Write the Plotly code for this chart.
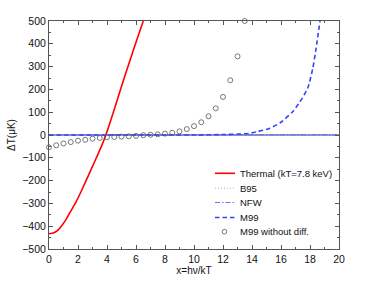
import plotly.graph_objects as go

# Thermal SZ curve
thermal_x = [0, 0.3, 0.6, 0.85, 1.1, 1.4, 1.81, 2.2, 2.54, 2.9, 3.25, 3.6, 3.92, 4.5, 5.2, 5.85, 6.5]
thermal_y = [-433, -430, -418, -400, -378, -345, -300, -250, -202, -152, -102, -52, 0, 112, 253, 378, 500]

# B95 and NFW (essentially zero across the range)
b95_x = [0, 5, 10, 15, 20]
b95_y = [0, 0, 0, 1, 2]
nfw_x = [0, 5, 10, 15, 20]
nfw_y = [0, 0, 0, 1, 2]

# M99 (dashed)
m99_x = [0, 4, 8, 10, 12, 13, 13.8, 14.4, 15.2, 16.0, 16.8, 17.3, 17.84, 18.19, 18.42, 18.69]
m99_y = [0, 0, 0, 0, 2, 4, 7, 15, 29, 56, 102, 145, 205, 292, 380, 500]

# M99 without diffusion (circles)
circ_x = [i * 0.5 for i in range(28)]
circ_y = [-54, -45, -37, -31, -25, -21, -16, -13, -10, -9, -7, -6, -4, -1,
          1, 3, 6, 10, 16, 26, 39, 56, 82, 117, 167, 240, 345, 500]

x_ticks = [0, 2, 4, 6, 8, 10, 12, 14, 16, 18, 20]
y_ticks = [-500, -400, -300, -200, -100, 0, 100, 200, 300, 400, 500]
y_tick_text = [str(v).replace('-', '\u2212') for v in y_ticks]

legend_names = ["Thermal (kT=7.8 keV)", "B95", "NFW", "M99", "M99 without diff."]

font_family = "Liberation Sans, Arial, sans-serif"
RED = "#ff0000"
B95_C = "#9aa8ff"
NFW_C = "#6677ff"
M99_C = "#3344ff"
CIRC_C = "#555555"
DOT = "1px,2px"
DASHDOT = "5px,2px,1.5px,2px"
DASH = "4.5px,3px"

fig = go.Figure()
# zero line
fig.add_trace(go.Scatter(x=[0, 20], y=[0, 0], mode="lines",
                         line=dict(color="#2a2a66", width=1), showlegend=False, hoverinfo="skip"))
fig.add_trace(go.Scatter(x=thermal_x, y=thermal_y, mode="lines", name=legend_names[0],
                         line=dict(color=RED, width=1.6, shape="spline", smoothing=0.6)))
fig.add_trace(go.Scatter(x=b95_x, y=b95_y, mode="lines", name=legend_names[1],
                         line=dict(color=B95_C, width=1, dash=DOT)))
fig.add_trace(go.Scatter(x=nfw_x, y=nfw_y, mode="lines", name=legend_names[2],
                         line=dict(color=NFW_C, width=1.2, dash=DASHDOT)))
fig.add_trace(go.Scatter(x=m99_x, y=m99_y, mode="lines", name=legend_names[3],
                         line=dict(color=M99_C, width=1.6, dash=DASH, shape="spline", smoothing=0.6)))
fig.add_trace(go.Scatter(x=circ_x, y=circ_y, mode="markers", name=legend_names[4],
                         cliponaxis=False,
                         marker=dict(symbol="circle-open", size=5, color=CIRC_C,
                                     line=dict(width=0.8, color=CIRC_C))))
fig.update_traces(showlegend=False)

axis_common = dict(showline=True, linecolor="#555555", linewidth=1, mirror="allticks",
                   ticks="inside", ticklen=4, tickcolor="#555555", showgrid=False,
                   zeroline=False, automargin=False,
                   tickfont=dict(size=10.5, color="#111111", family=font_family))

fig.update_xaxes(range=[0, 20], tickvals=x_ticks, ticktext=[str(v) for v in x_ticks],
                 minor=dict(ticks="inside", dtick=1, ticklen=2, tickcolor="#555555"),
                 title=dict(text="x=h\u03bd/kT", font=dict(size=10, family=font_family, color="#111111"),
                            standoff=1),
                 **axis_common)
fig.update_yaxes(range=[-500, 500], tickvals=y_ticks, ticktext=y_tick_text,
                 minor=dict(ticks="inside", dtick=50, ticklen=2, tickcolor="#555555"),
                 title=dict(text="\u0394T(\u03bcK)", font=dict(size=10, family=font_family, color="#111111"),
                            standoff=4),
                 **axis_common)

# manual legend (paper coordinates)
L, R, T, B = 49, 339, 21, 249
def px(x):
    return (x - L) / (R - L)
def py(y):
    return (B - y) / (B - T)

rows = [173.3, 188.3, 202.5, 217.5, 231.7]
styles = [(RED, "solid", 1.6), (B95_C, DOT, 1), (NFW_C, DASHDOT, 1.2), (M99_C, DASH, 1.6)]
shapes = []
for yy, (c, d, w) in zip(rows[:4], styles):
    shapes.append(dict(type="line", xref="paper", yref="paper", x0=px(215), x1=px(235),
                       y0=py(yy), y1=py(yy), line=dict(color=c, dash=d, width=w)))
shapes.append(dict(type="circle", xref="paper", yref="paper", xsizemode="pixel", ysizemode="pixel",
                   xanchor=px(224.5), yanchor=py(rows[4]), x0=-2.3, x1=2.3, y0=-2.3, y1=2.3,
                   line=dict(color=CIRC_C, width=0.8)))
annotations = []
for yy, name in zip(rows, legend_names):
    annotations.append(dict(text=name, xref="paper", yref="paper", x=px(237.5), y=py(yy),
                            xanchor="left", yanchor="middle", showarrow=False,
                            font=dict(size=9.5, family=font_family, color="#111111")))

fig.update_layout(
    width=374, height=281,
    margin=dict(l=L, r=374 - R, t=T, b=281 - B),
    plot_bgcolor="white", paper_bgcolor="white",
    font=dict(family=font_family, size=10, color="#111111"),
    showlegend=False,
    shapes=shapes, annotations=annotations,
)

fig.write_html("out.html",
               config={"displayModeBar": False},
               post_script="document.body.style.margin='0px';document.body.style.overflow='hidden';")
